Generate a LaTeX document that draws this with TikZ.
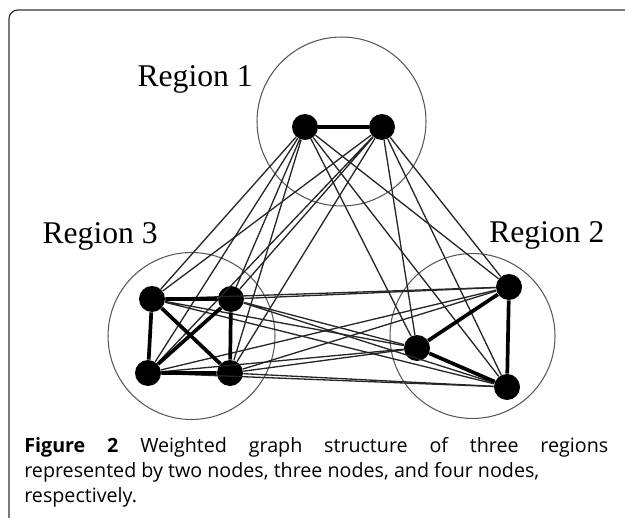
\documentclass[tikz,border=0pt]{standalone}
\usepackage{fontspec}
\setmainfont{Liberation Serif}
\newfontfamily\capfont{Open Sans}

\tikzset{
    vertex/.style={circle, fill=black, inner sep=0pt, minimum size=0.52cm},
    region/.style={draw=black!65, line width=0.6pt},
    link/.style={black!85, line width=0.75pt},
    strong/.style={black, line width=2.1pt},
    rlabel/.style={inner sep=0pt, font=\fontsize{18}{20}\selectfont}
}

\begin{document}
\begin{tikzpicture}[x=0.02cm, y=-0.02cm]
    \useasboundingbox (0,0) rectangle (625,517);
    % frame
    \draw[black!80, line width=0.7pt, rounded corners=5pt] (9,530) -- (9,10) -- (640,10);

    % regions
    \draw[region] (341.5,121.5) circle (1.69cm);
    \draw[region] (191.5,336) circle (1.67cm);
    \draw[region] (472.5,336) circle (1.65cm);
    \node[rlabel, anchor=base east] (r1) at (253,87) {Region 1};
    \node[rlabel, anchor=base east] (r3) at (158,243) {Region 3};
    \node[rlabel, anchor=base west] (r2) at (489,242) {Region 2};

    % nodes
    \node[vertex] (a1) at (305,127) {};
    \node[vertex] (a2) at (382,127) {};
    \node[vertex] (b1) at (152,299) {};
    \node[vertex] (b2) at (231,299) {};
    \node[vertex] (b3) at (148,373) {};
    \node[vertex] (b4) at (230,373) {};
    \node[vertex] (c1) at (509,287) {};
    \node[vertex] (c2) at (417,348) {};
    \node[vertex] (c3) at (507,387) {};

    % between regions
    \draw[link] (a1) -- (b1) (a1) -- (b2) (a1) -- (b3) (a1) -- (b4);
    \draw[link] (a2) -- (b1) (a2) -- (b2) (a2) -- (b3) (a2) -- (b4);
    \draw[link] (a1) -- (c1) (a1) -- (c2) (a1) -- (c3);
    \draw[link] (a2) -- (c1) (a2) -- (c2) (a2) -- (c3);
    \draw[link] (b1) -- (c1) (b1) -- (c2) (b1) -- (c3);
    \draw[link] (b2) -- (c1) (b2) -- (c2) (b2) -- (c3);
    \draw[link] (b3) -- (c1) (b3) -- (c2) (b3) -- (c3);
    \draw[link] (b4) -- (c1) (b4) -- (c2) (b4) -- (c3);

    % inside regions
    \draw[strong] (a1) -- (a2);
    \draw[strong] (c1) -- (c2) -- (c3) -- (c1);
    \draw[strong] (b1) -- (b2) -- (b4) -- (b3) -- (b1);
    \draw[strong] (b1) -- (b4) (b2) -- (b3);

    \node[anchor=base west, inner sep=0pt, text width=11.68cm, align=justify,
          font=\capfont\fontsize{11.2}{14.5}\selectfont] (cap) at (24,452)
        {\textbf{Figure 2} Weighted graph structure of three regions\linebreak
         represented by two nodes, three nodes, and four nodes,\newline
         respectively.};
\end{tikzpicture}
\end{document}
